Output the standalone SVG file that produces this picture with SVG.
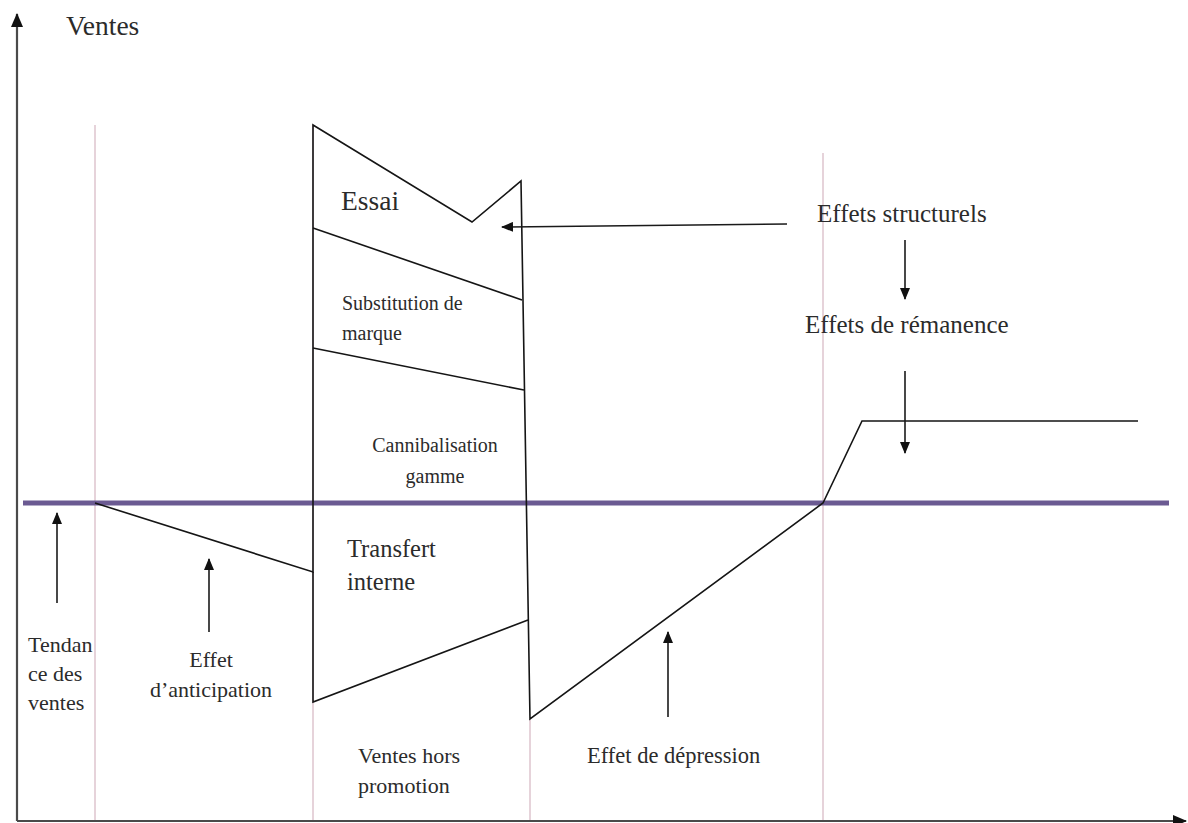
<svg xmlns="http://www.w3.org/2000/svg" width="1188" height="823" viewBox="0 0 1188 823">
<style>
text{font-family:'Liberation Serif','DejaVu Serif',serif;fill:#2b2b2b}
.ax{stroke:#4a4a4a;stroke-width:2.2;fill:none}
.grid{stroke:#d9bcc6;stroke-width:1.3;fill:none}
.ln{stroke:#151515;stroke-width:1.6;fill:none;stroke-linejoin:miter}
.arr{stroke:#1a1a1a;stroke-width:1.6;fill:none}
</style>
<defs>
<marker id="ah" viewBox="0 0 12 10" refX="11" refY="5" markerWidth="12" markerHeight="10" markerUnits="userSpaceOnUse" orient="auto">
<path d="M0,0 L12,5 L0,10 Z" fill="#111"/>
</marker>
<marker id="axh" viewBox="0 0 14 12" refX="13" refY="6" markerWidth="14" markerHeight="12" markerUnits="userSpaceOnUse" orient="auto">
<path d="M0,0 L14,6 L0,12 Z" fill="#111"/>
</marker>
</defs>
<rect width="1188" height="823" fill="#fff"/>

<g id="grid">
<line class="grid" x1="95" y1="125" x2="95" y2="820"/>
<line class="grid" x1="313" y1="125" x2="313" y2="820"/>
<line class="grid" x1="530" y1="719" x2="530" y2="820"/>
<line class="grid" x1="823" y1="153" x2="823" y2="820"/>
</g>

<g id="axes">
<line class="ax" x1="17" y1="821" x2="17" y2="14" marker-end="url(#axh)"/>
<line class="ax" x1="17" y1="821" x2="1186" y2="821" marker-end="url(#axh)"/>
<text x="66" y="35" font-size="27.5">Ventes</text>
</g>

<g id="tendance">
<line x1="23" y1="503" x2="1169" y2="503" stroke="#6b5a92" stroke-width="5"/>
</g>

<g id="courbe">
<polyline class="ln" points="95,503 313,572 313,125 472,222 521,181 530,719 823,503 862,421 1138,421"/>
<line class="ln" x1="313" y1="228" x2="522" y2="300"/>
<line class="ln" x1="313" y1="348" x2="524" y2="390"/>
<polyline class="ln" points="313,572 313,702 528,620"/>
</g>

<g id="connectors">
<line class="arr" x1="787" y1="224" x2="502" y2="227" marker-end="url(#ah)"/>
<line class="arr" x1="905" y1="240" x2="905" y2="299" marker-end="url(#ah)"/>
<line class="arr" x1="905" y1="371" x2="905" y2="453" marker-end="url(#ah)"/>
<line class="arr" x1="57" y1="603" x2="57" y2="513" marker-end="url(#ah)"/>
<line class="arr" x1="209" y1="632" x2="209" y2="559" marker-end="url(#ah)"/>
<line class="arr" x1="668" y1="717" x2="668" y2="632" marker-end="url(#ah)"/>
</g>

<g id="essai"><text x="341" y="210" font-size="27.5">Essai</text></g>
<g id="substitution">
<text x="342" y="310" font-size="20">Substitution de</text>
<text x="342" y="340" font-size="20">marque</text>
</g>
<g id="cannibalisation">
<text x="435" y="452" font-size="20" text-anchor="middle">Cannibalisation</text>
<text x="435" y="483" font-size="20" text-anchor="middle">gamme</text>
</g>
<g id="transfert">
<text x="347" y="557" font-size="24.5">Transfert</text>
<text x="347" y="590" font-size="24.5">interne</text>
</g>
<g id="tendance-label">
<text x="28" y="652" font-size="22">Tendan</text>
<text x="28" y="681" font-size="22">ce des</text>
<text x="28" y="710" font-size="22">ventes</text>
</g>
<g id="anticipation">
<text x="211" y="667" font-size="22" text-anchor="middle">Effet</text>
<text x="211" y="697" font-size="22" text-anchor="middle">d’anticipation</text>
</g>
<g id="hors-promotion">
<text x="358" y="763" font-size="22">Ventes hors</text>
<text x="358" y="793" font-size="22">promotion</text>
</g>
<g id="depression"><text x="587" y="763" font-size="22.5">Effet de dépression</text></g>
<g id="structurels"><text x="817" y="222" font-size="25">Effets structurels</text></g>
<g id="remanence"><text x="805" y="333" font-size="25">Effets de rémanence</text></g>
</svg>
